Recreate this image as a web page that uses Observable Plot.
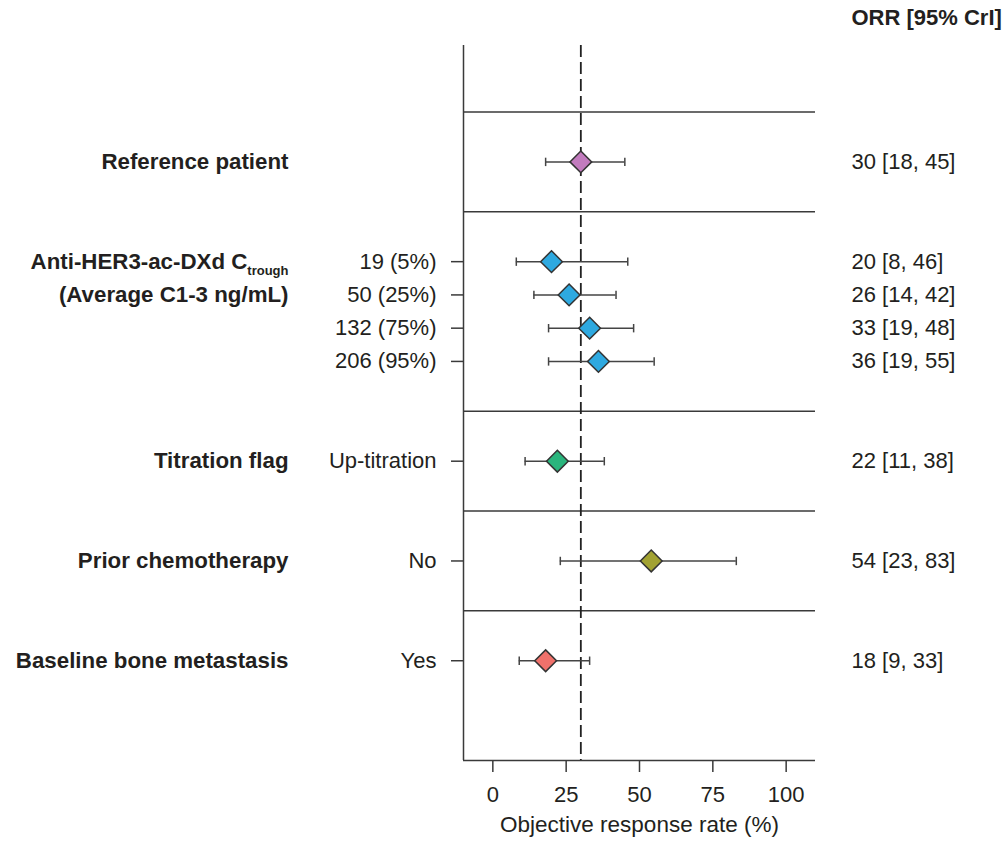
<!DOCTYPE html>
<html>
<head>
<meta charset="utf-8">
<script src="https://cdn.jsdelivr.net/npm/d3@7"></script>
<script src="https://cdn.jsdelivr.net/npm/@observablehq/plot@0.6"></script>
<style>
  html, body { margin: 0; padding: 0; background: #fff; }
  #chart { width: 1008px; height: 841px; }
</style>
</head>
<body>
<div id="chart"></div>
<script>
// ---- Data ----
const groupNames = [
  "Reference patient",
  "Anti-HER3-ac-DXd C_trough\n(Average C1-3 ng/mL)",
  "Titration flag",
  "Prior chemotherapy",
  "Baseline bone metastasis"
];
const rowGroup = [0, 1, 1, 1, 1, 2, 3, 4];
const rowLevel = ["", "19 (5%)", "50 (25%)", "132 (75%)", "206 (95%)", "Up-titration", "No", "Yes"];
const orr  = [30, 20, 26, 33, 36, 22, 54, 18];
const low  = [18,  8, 14, 19, 19, 11, 23,  9];
const high = [45, 46, 42, 48, 55, 38, 83, 33];
const xTicks = [0, 25, 50, 75, 100];
const referenceORR = 30;
const headerText = "ORR [95% CrI]";
const xLabel = "Objective response rate (%)";

// ---- Styles ----
const palette = ["#C27BBE", "#2EA9E0", "#2AB57D", "#A2A232", "#F0716B"];
const ink = "#231f20";
const lineColor = "#3a3a3a";
const font = "'Liberation Sans', Arial, Helvetica, sans-serif";

// ---- Layout (computed row positions, 1 unit = one sub-row) ----
const TOP_PAD = 2, GAP = 1.5, BOTTOM_PAD = 3;
let pos = TOP_PAD;
const separators = [];
const rowPos = [];
groupNames.forEach((g, gi) => {
  separators.push(pos);
  pos += GAP;
  let last = pos;
  rowGroup.forEach((rg, i) => {
    if (rg === gi) { rowPos[i] = pos; last = pos; pos += 1; }
  });
  pos = last + GAP;
});
const lastRow = Math.max(...rowPos);
const yMax = lastRow + BOTTOM_PAD;

const rows = rowGroup.map((g, i) => ({
  group: g, level: rowLevel[i], orr: orr[i], lo: low[i], hi: high[i], pos: rowPos[i],
  ci: `${orr[i]} [${low[i]}, ${high[i]}]`
}));

// group label lines (multi-line labels occupy consecutive sub-rows)
const groupLines = [];
groupNames.forEach((g, gi) => {
  const first = rows.find(r => r.group === gi).pos;
  g.split("\n").forEach((line, li) => groupLines.push({text: line, pos: first + li}));
});

const subRows = rows.filter(r => r.level !== "");
const levelByPos = new Map(subRows.map(r => [r.pos, r.level]));

const capSymbol = {
  draw(ctx, size) { const r = Math.sqrt(size / Math.PI); ctx.moveTo(0, -r); ctx.lineTo(0, r); }
};

const chart = Plot.plot({
  width: 1008,
  height: 841,
  marginLeft: 463,
  marginRight: 193,
  marginTop: 45,
  marginBottom: 81,
  style: {fontFamily: font, fontSize: "22px", color: ink, background: "#fff"},
  x: {domain: [-10, 110]},
  y: {domain: [0, yMax], reverse: true},
  color: {type: "ordinal", domain: d3.range(groupNames.length), range: palette},
  marks: [
    Plot.ruleY(separators, {stroke: lineColor, strokeWidth: 1.5}),
    Plot.ruleX([-10], {stroke: lineColor, strokeWidth: 1.5}),
    Plot.ruleY([yMax], {stroke: lineColor, strokeWidth: 1.5}),
    Plot.ruleX([referenceORR], {stroke: "#222", strokeWidth: 1.8, strokeDasharray: "12,5"}),
    Plot.ruleY(rows, {y: "pos", x1: "lo", x2: "hi", stroke: "#444", strokeWidth: 1.5}),
    Plot.dot(rows, {x: "lo", y: "pos", symbol: capSymbol, r: 4.2, fill: "none", stroke: "#444", strokeWidth: 1.5}),
    Plot.dot(rows, {x: "hi", y: "pos", symbol: capSymbol, r: 4.2, fill: "none", stroke: "#444", strokeWidth: 1.5}),
    Plot.dot(rows, {x: "orr", y: "pos", symbol: "diamond2", r: 9.8, fill: "group", stroke: "#333", strokeWidth: 1.5}),
    Plot.axisX({ticks: xTicks, tickSize: 12, tickPadding: 14, fontSize: 22, label: null, stroke: lineColor, strokeWidth: 1.5, color: ink}),
    Plot.axisY({ticks: subRows.map(r => r.pos), tickFormat: d => levelByPos.get(d), tickSize: 12, tickPadding: 15, fontSize: 22, label: null, stroke: lineColor, strokeWidth: 1.5}),
    Plot.text([xLabel], {frameAnchor: "bottom", dy: 71, text: d => d, fontSize: 22.5, fill: ink}),
    Plot.text(groupLines, {y: "pos", text: "text", frameAnchor: "left", dx: -175, textAnchor: "end", fontWeight: "bold", fontSize: 22.3, fill: ink}),
    Plot.text(rows, {y: "pos", text: "ci", frameAnchor: "right", dx: 36, textAnchor: "start", fontSize: 22, fill: ink}),
    Plot.text([headerText], {frameAnchor: "top-right", dx: 36, dy: -36, textAnchor: "start", text: d => d, fontWeight: "bold", fontSize: 22, fill: ink})
  ]
});

// subscript for C_trough
chart.querySelectorAll("text").forEach(t => {
  if (t.textContent.includes("_trough")) {
    const [main] = t.textContent.split("_");
    t.textContent = main;
    const sub = document.createElementNS("http://www.w3.org/2000/svg", "tspan");
    sub.setAttribute("font-size", "13");
    sub.setAttribute("dy", "6");
    sub.textContent = "trough";
    t.appendChild(sub);
  }
});

document.getElementById("chart").appendChild(chart);
</script>
</body>
</html>
